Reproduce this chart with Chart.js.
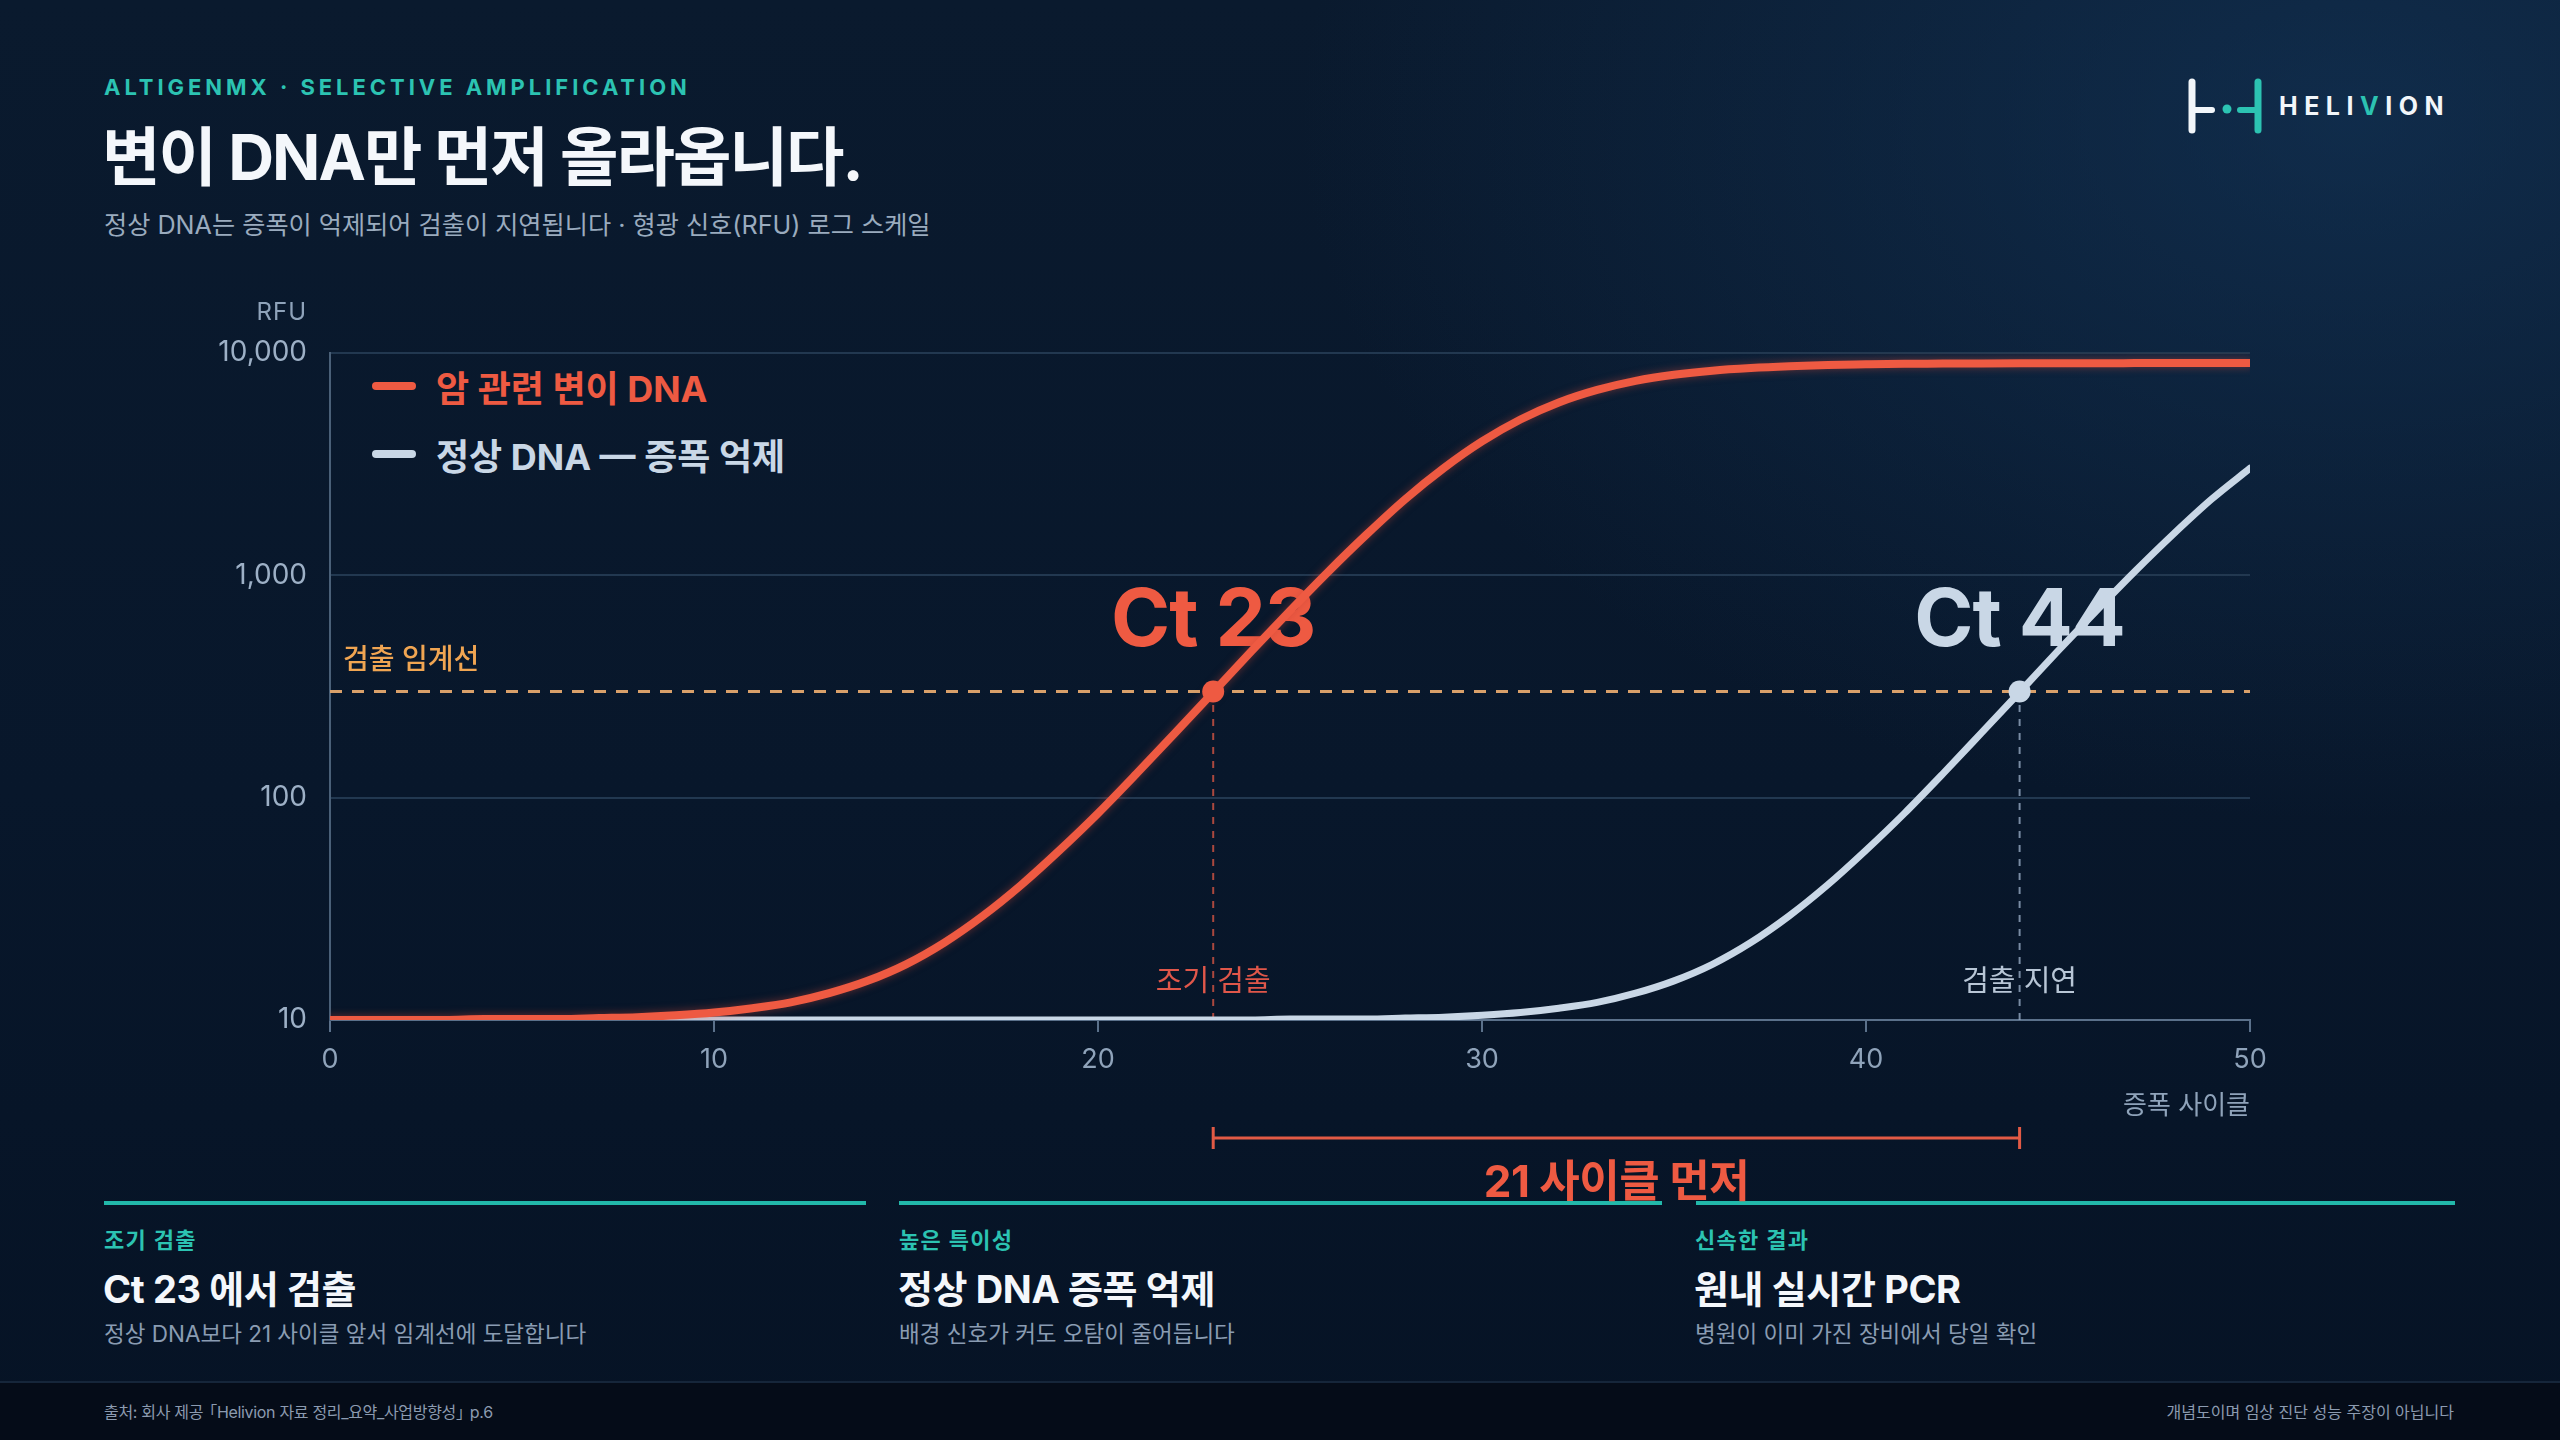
<!DOCTYPE html>
<html lang="ko">
<head>
<meta charset="utf-8">
<title>변이 DNA만 먼저 올라옵니다</title>
<script src="https://cdn.jsdelivr.net/npm/chart.js@4.4.1/dist/chart.umd.min.js"></script>
<style>
  html, body { margin: 0; padding: 0; }
  body {
    width: 2560px; height: 1440px; overflow: hidden; position: relative;
    font-family: Inter, "Noto Sans CJK KR", sans-serif;
    background:
      radial-gradient(ellipse 1500px 1000px at 2350px 120px, rgba(20, 56, 94, 0.6), rgba(20, 56, 94, 0) 70%),
      linear-gradient(180deg, #0a1a2e 0%, #08172b 55%, #061325 100%);
  }
  .abs { position: absolute; white-space: nowrap; }
  .cy { transform: translateY(-50%); }
  .kicker { left: 104px; top: 87px; font-size: 22px; font-weight: 700; letter-spacing: 0.18em; color: #2cc3b2; }
  .title { left: 102px; top: 152px; font-size: 63.5px; font-weight: 700; letter-spacing: -0.03em; color: #f4f7fb; }
  .sub { left: 104px; top: 223px; font-size: 25.2px; color: #9aabbe; }
  .brand { left: 2279px; top: 106px; font-size: 25px; font-weight: 700; letter-spacing: 0.26em; color: #f2f6fa; }
  .brand b { color: #2cc3b2; font-weight: 700; }
  .leg { display: flex; align-items: center; font-size: 36px; font-weight: 700; letter-spacing: 0; }
  .leg i { display: inline-block; width: 44px; height: 8px; border-radius: 4px; margin-right: 20px; }
  .rule { top: 1201px; height: 4px; background: #22b8aa; }
  .clabel { font-size: 22px; font-weight: 700; color: #2cc3b2; letter-spacing: 0.06em; }
  .ctitle { font-size: 38px; font-weight: 700; color: #f4f7fb; letter-spacing: -0.01em; }
  .cdesc { font-size: 22.5px; color: #8a9cb2; }
  .footer { left: 0; top: 1381px; width: 2560px; height: 59px; background: #050c18; border-top: 2px solid #16263a; }
  .fnote { top: 1411px; font-size: 16px; color: #8c9bb0; }
  .bl { margin-left: -6px; }
  .br { margin-right: -6px; }
  #chartCanvas { position: absolute; left: 200px; top: 300px; z-index: 2; }
</style>
</head>
<body>

<div class="abs cy kicker">ALTIGENMX · SELECTIVE AMPLIFICATION</div>
<div class="abs cy title">변이 DNA만 먼저 올라옵니다.</div>
<div class="abs cy sub">정상 DNA는 증폭이 억제되어 검출이 지연됩니다 · 형광 신호(RFU) 로그 스케일</div>

<svg class="abs" style="left:2180px; top:74px;" width="90" height="64" viewBox="0 0 90 64">
  <line x1="12" y1="8" x2="12" y2="56" stroke="#f2f6fa" stroke-width="7" stroke-linecap="round"/>
  <line x1="12" y1="36" x2="32" y2="36" stroke="#f2f6fa" stroke-width="6" stroke-linecap="round"/>
  <circle cx="47" cy="35" r="4.5" fill="#2cc3b2"/>
  <line x1="60" y1="36" x2="78" y2="36" stroke="#2cc3b2" stroke-width="6" stroke-linecap="round"/>
  <line x1="78" y1="8" x2="78" y2="56" stroke="#2cc3b2" stroke-width="7" stroke-linecap="round"/>
</svg>
<div class="abs cy brand">HELI<b>V</b>ION</div>

<div class="abs cy leg" style="left:372px; top:386px; color:#ee5a42;"><i style="background:#ee5a42"></i>암 관련 변이 DNA</div>
<div class="abs cy leg" style="left:372px; top:454px; color:#c9d7e6;"><i style="background:#c9d7e6"></i>정상 DNA — 증폭 억제</div>

<div class="abs rule" style="left:104px; width:762px;"></div>
<div class="abs rule" style="left:899px; width:763px;"></div>
<div class="abs rule" style="left:1696px; width:759px;"></div>

<div class="abs cy clabel" style="left:104px; top:1238px;">조기 검출</div>
<div class="abs cy ctitle" style="left:103px; top:1286px;">Ct 23 에서 검출</div>
<div class="abs cy cdesc" style="left:104px; top:1332px;">정상 DNA보다 21 사이클 앞서 임계선에 도달합니다</div>

<div class="abs cy clabel" style="left:899px; top:1238px;">높은 특이성</div>
<div class="abs cy ctitle" style="left:898px; top:1286px;">정상 DNA 증폭 억제</div>
<div class="abs cy cdesc" style="left:899px; top:1332px;">배경 신호가 커도 오탐이 줄어듭니다</div>

<div class="abs cy clabel" style="left:1695px; top:1238px;">신속한 결과</div>
<div class="abs cy ctitle" style="left:1694px; top:1286px;">원내 실시간 PCR</div>
<div class="abs cy cdesc" style="left:1695px; top:1332px;">병원이 이미 가진 장비에서 당일 확인</div>

<div class="abs footer"></div>
<div class="abs cy fnote" style="left:104px; letter-spacing:-0.02em;">출처: 회사 제공 <span class="bl">「</span>Helivion 자료 정리_요약_사업방향성<span class="br">」</span> p.6</div>
<div class="abs cy fnote" style="right:106px;">개념도이며 임상 진단 성능 주장이 아닙니다</div>

<canvas id="chartCanvas" width="2100" height="915"></canvas>

<script>
// amplification cycle (x)
const cycles = [0, 1, 2, 3, 4, 5, 6, 7, 8, 9, 10, 11, 12, 13, 14, 15, 16, 17, 18, 19, 20,
  21, 22, 23, 24, 25, 26, 27, 28, 29, 30, 31, 32, 33, 34, 35, 36, 37, 38, 39, 40,
  41, 42, 43, 44, 45, 46, 47, 48, 49, 50];

// RFU, cancer-related mutant DNA
const mutantRfu = [10.0, 10.0, 10.0, 10.0, 10.1, 10.1, 10.1, 10.2, 10.3, 10.5, 10.8,
  11.3, 12.0, 13.2, 15.0, 17.8, 22.3, 29.4, 40.5, 58, 85,
  128, 195, 298, 457, 693, 1040, 1530, 2200, 3030, 4000,
  5020, 5990, 6820, 7490, 7980, 8330, 8560, 8720, 8830, 8890,
  8940, 8960, 8980, 8990, 9000, 9000, 9005, 9005, 9010, 9010];

// RFU, normal DNA (amplification suppressed)
const normalRfu = [10.0, 10.0, 10.0, 10.0, 10.0, 10.0, 10.0, 10.0, 10.0, 10.0, 10.0,
  10.0, 10.0, 10.0, 10.0, 10.0, 10.0, 10.0, 10.0, 10.0, 10.0,
  10.0, 10.0, 10.0, 10.0, 10.1, 10.1, 10.1, 10.2, 10.3, 10.5,
  10.8, 11.3, 12.0, 13.2, 15.0, 17.8, 22.3, 29.4, 40.5, 58,
  85, 128, 195, 298, 457, 693, 1040, 1530, 2200, 3030];

const xTicks = [0, 10, 20, 30, 40, 50];
const yTicks = [10, 100, 1000, 10000];
const threshold = 300;
const ctMutant = 23;
const ctNormal = 44;

const RED = '#ee5a42';
const GREY = '#c9d7e6';
const FONT = 'Inter, "Noto Sans CJK KR", sans-serif';

function pts(xs, ys) {
  return xs.map((c, i) => ({ x: c, y: ys[i] }));
}

const annotate = {
  id: 'annotate',
  beforeDatasetsDraw(chart) {
    const { ctx, scales: { x, y } } = chart;
    const ty = y.getPixelForValue(threshold);
    ctx.save();
    ctx.textAlign = 'center';
    ctx.textBaseline = 'middle';
    ctx.font = '700 80px ' + FONT;
    ctx.letterSpacing = '-1px';
    ctx.fillStyle = RED;
    ctx.fillText('Ct ' + ctMutant, x.getPixelForValue(ctMutant), ty - 70);
    ctx.fillStyle = GREY;
    ctx.fillText('Ct ' + ctNormal, x.getPixelForValue(ctNormal), ty - 70);

    ctx.letterSpacing = '0px';
    ctx.font = '400 29px ' + FONT;
    ctx.fillStyle = '#e0574a';
    ctx.fillText('조기 검출', x.getPixelForValue(ctMutant), y.bottom - 38);
    ctx.fillStyle = '#b8c6d6';
    ctx.fillText('검출 지연', x.getPixelForValue(ctNormal), y.bottom - 38);

    ctx.textAlign = 'left';
    ctx.font = '500 28px ' + FONT;
    ctx.fillStyle = '#f0a552';
    ctx.fillText('검출 임계선', x.left + 13, ty - 31);
    ctx.restore();
  },
  beforeDatasetDraw(chart, args) {
    if (args.index === 1) {
      const ctx = chart.ctx;
      ctx.save();
      ctx.shadowColor = 'rgba(200, 70, 55, 0.5)';
      ctx.shadowBlur = 9;
    }
  },
  afterDatasetDraw(chart, args) {
    if (args.index === 1) chart.ctx.restore();
  },
  afterDraw(chart) {
    const { ctx, scales: { x, y } } = chart;
    ctx.save();
    ctx.fillStyle = '#8fa3ba';
    ctx.textBaseline = 'middle';
    ctx.textAlign = 'right';
    ctx.font = '400 24px ' + FONT;
    ctx.letterSpacing = '1px';
    ctx.fillText('RFU', y.right - 23, y.top - 40);
    ctx.letterSpacing = '0px';
    ctx.font = '400 26px ' + FONT;
    ctx.fillText('증폭 사이클', x.right, x.top + 86);

    // bracket between the two Ct values
    const x1 = x.getPixelForValue(ctMutant);
    const x2 = x.getPixelForValue(ctNormal);
    const by = x.top + 118;
    ctx.strokeStyle = '#e25a45';
    ctx.lineWidth = 3;
    ctx.beginPath();
    ctx.moveTo(x1, by); ctx.lineTo(x2, by);
    ctx.moveTo(x1, by - 11); ctx.lineTo(x1, by + 11);
    ctx.moveTo(x2, by - 11); ctx.lineTo(x2, by + 11);
    ctx.stroke();
    ctx.textAlign = 'center';
    ctx.fillStyle = RED;
    ctx.font = '700 44px ' + FONT;
    ctx.letterSpacing = '-0.5px';
    ctx.fillText((ctNormal - ctMutant) + ' 사이클 먼저', (x1 + x2) / 2, x.top + 164);
    ctx.restore();
  }
};

const ctx = document.getElementById('chartCanvas').getContext('2d');

const chart = new Chart(ctx, {
  type: 'line',
  data: {
    datasets: [
      {
        label: 'Ct dots',
        data: [{ x: ctMutant, y: threshold }, { x: ctNormal, y: threshold }],
        showLine: false,
        pointRadius: 11,
        pointBackgroundColor: [RED, GREY],
        pointBorderWidth: 0,
        order: 0
      },
      {
        label: '암 관련 변이 DNA',
        data: pts(cycles, mutantRfu),
        borderColor: RED,
        borderWidth: 8,
        borderCapStyle: 'round',
        pointRadius: 0,
        cubicInterpolationMode: 'monotone',
        order: 1
      },
      {
        label: '정상 DNA — 증폭 억제',
        data: pts(cycles, normalRfu),
        borderColor: GREY,
        borderWidth: 7,
        borderCapStyle: 'round',
        pointRadius: 0,
        cubicInterpolationMode: 'monotone',
        order: 2
      },
      {
        label: 'Ct mutant drop',
        data: [{ x: ctMutant, y: 10 }, { x: ctMutant, y: threshold }],
        borderColor: 'rgba(226, 90, 69, 0.75)',
        borderWidth: 2,
        borderDash: [7, 7],
        pointRadius: 0,
        order: 3
      },
      {
        label: 'Ct normal drop',
        data: [{ x: ctNormal, y: 10 }, { x: ctNormal, y: threshold }],
        borderColor: 'rgba(150, 170, 195, 0.8)',
        borderWidth: 2,
        borderDash: [7, 7],
        pointRadius: 0,
        order: 3
      },
      {
        label: '검출 임계선',
        data: [{ x: 0, y: threshold }, { x: 50, y: threshold }],
        borderColor: '#d9a06a',
        borderWidth: 3,
        borderDash: [12, 10],
        pointRadius: 0,
        order: 4
      }
    ]
  },
  options: {
    responsive: false,
    animation: false,
    layout: { padding: { top: 53, right: 50, bottom: 0, left: 0 } },
    plugins: {
      legend: { display: false },
      tooltip: { enabled: false }
    },
    scales: {
      x: {
        type: 'linear',
        min: 0,
        max: 50,
        afterBuildTicks: s => { s.ticks = xTicks.map(v => ({ value: v })); },
        afterFit: s => { s.height = 195; },
        grid: { drawOnChartArea: false, drawTicks: true, tickLength: 12, color: '#5b718b', lineWidth: 2 },
        border: { color: '#5b718b', width: 2 },
        ticks: { color: '#8fa3ba', font: { size: 27, family: FONT }, padding: 12, maxRotation: 0 }
      },
      y: {
        type: 'logarithmic',
        min: 10,
        max: 10000,
        afterBuildTicks: s => { s.ticks = yTicks.map(v => ({ value: v })); },
        afterFit: s => { s.width = 130; },
        grid: { color: '#223850', lineWidth: 2, drawTicks: false },
        border: { color: '#4a6078', width: 2 },
        ticks: {
          color: '#9db0c6',
          font: { size: 28, family: FONT },
          padding: 23,
          callback: v => Number(v).toLocaleString('en-US')
        }
      }
    }
  },
  plugins: [annotate]
});
</script>
</body>
</html>
